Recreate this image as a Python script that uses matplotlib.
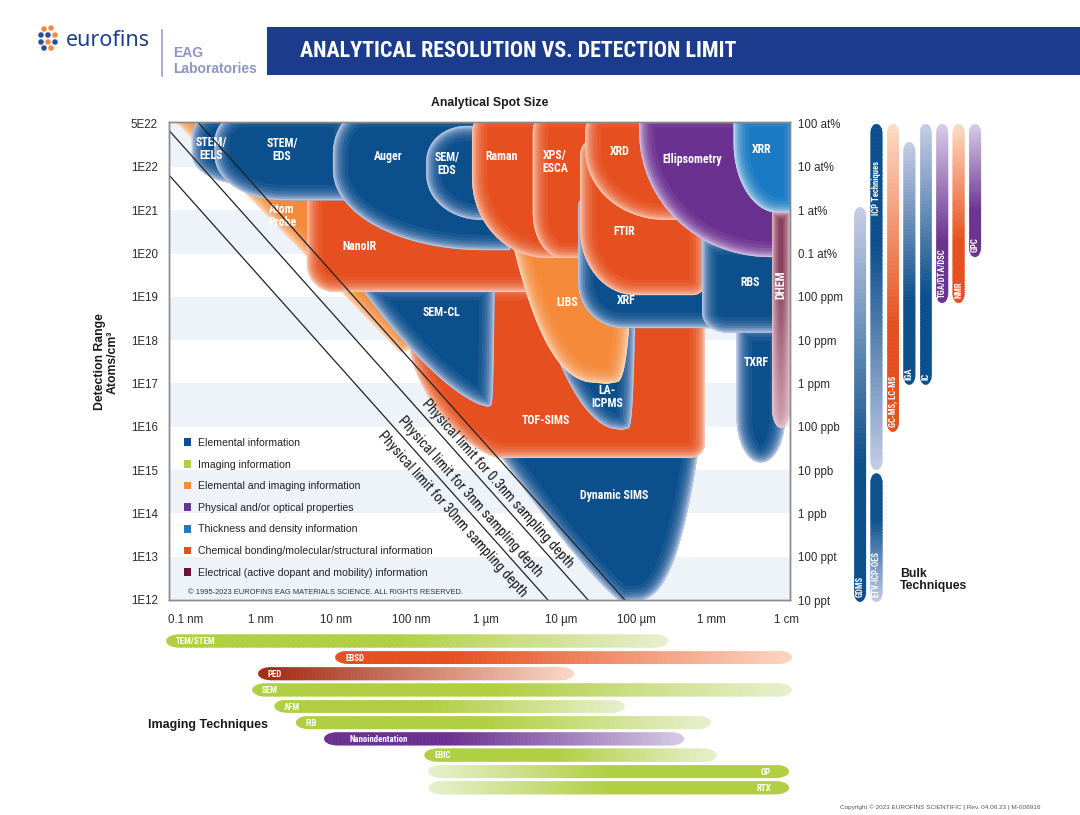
import numpy as np
import matplotlib
matplotlib.use("Agg")
import matplotlib.pyplot as plt
from matplotlib.patches import Polygon, Rectangle, Patch
from matplotlib.collections import PolyCollection
from matplotlib.colors import to_rgb
from matplotlib import font_manager as fm

# ---------------------------------------------------------------- fonts
_avail = {f.name for f in fm.fontManager.ttflist}
NARROW = next((f for f in ["Liberation Sans Narrow", "Roboto Condensed"] if f in _avail), None)
BASE = "Liberation Sans" if "Liberation Sans" in _avail else "DejaVu Sans"
NSCALE = 1.0
if NARROW is None:
    NARROW = BASE
    NSCALE = 0.86
plt.rcParams["font.family"] = [BASE, "DejaVu Sans"]

# ---------------------------------------------------------------- data
# Techniques: analytical spot size (m) vs detection range (atoms/cm^3)
tech_names = ["Dynamic SIMS", "TOF-SIMS", "Atom Probe", "SEM-CL", "NanoIR", "LA-ICPMS", "LIBS",
              "STEM/EELS", "STEM/EDS", "Auger", "SEM/EDS", "Raman", "XPS/ESCA", "XRF", "FTIR",
              "XRD", "TXRF", "RBS", "Ellipsometry", "XRR", "DHEM"]
tech_cats = ["elemental", "chemical", "elem_img", "elemental", "chemical", "elemental", "elem_img",
             "elemental", "elemental", "elemental", "elemental", "chemical", "chemical", "elemental",
             "chemical", "chemical", "elemental", "elemental", "physical", "thickness", "electrical"]
spot_min = [1.1e-6, 9.7e-8, 7.4e-11, 2.4e-8, 4.1e-9, 3.3e-6, 1.8e-6, 1.2e-10, 2.4e-10, 9.1e-9,
            1.6e-7, 6.5e-7, 4.2e-6, 1.7e-5, 1.8e-5, 2.1e-5, 2.2e-3, 7.6e-4, 1.1e-4, 2.0e-3, 6.5e-3]
spot_max = [7.1e-4, 8.3e-4, 1.3e-7, 1.3e-6, 9.7e-6, 1.0e-4, 9.7e-5, 3.3e-9, 1.5e-8, 2.1e-6,
            1.3e-6, 3.3e-5, 4.5e-5, 1.3e-3, 8.3e-4, 7.1e-4, 9.7e-3, 1.5e-2, 1.5e-2, 1.5e-2, 1.13e-2]
det_min = [9e11, 1.9e15, 5.4e17, 2.9e16, 1.3e19, 8.4e15, 9.8e16, 4.1e21, 1.7e21, 1.2e20,
           6.0e20, 7.9e19, 7.9e19, 1.9e18, 1.1e19, 6.0e20, 1.5e15, 1.5e18, 8.3e19, 8.7e20, 9.4e15]
det_max = [5e15, 1.9e19, 1e23, 1.9e19, 1e23, 1.2e20, 1.7e21, 1e23, 1e23, 1e23,
           8.9e22, 1e23, 1e23, 2.2e21, 4.2e22, 1e23, 2.2e18, 2.1e20, 1e23, 1e23, 9.2e20]
# spot size reached at the best detection limit (tapered regions only)
best_spot = [6.5e-5, None, 7.1e-8, 1.06e-6, None, 6.5e-5, 4.1e-5, None, None, None,
             None, None, None, None, None, None, None, None, None, None, None]

# physical limit lines: (spot, conc) end points
limit_labels = ["Physical limit for 0.3nm sampling depth",
                "Physical limit for 3nm sampling depth",
                "Physical limit for 30nm sampling depth"]
limit_spot = [(1.4e-10, 7.1e-5), (5.9e-11, 2.3e-5), (5.9e-11, 6.7e-6)]
limit_conc = [(1.15e23, 1e12), (7.1e22, 1e12), (6.6e21, 1e12)]

# bulk techniques (detection range only)
bulk_names = ["GDMS", "ICP Techniques", "ETV-ICP-OES", "GC-MS, LC-MS", "IGA", "IC",
              "TGA/DTA/DSC", "NMR", "GPC"]
bulk_col = [0, 1, 1, 2, 3, 4, 5, 6, 7]
bulk_top = [1.2e21, 1e23, 8.5e14, 1e23, 3.8e22, 1e23, 1e23, 1e23, 1e23]
bulk_bot = [9e11, 1.0e15, 9e11, 7.6e15, 9.3e16, 9.3e16, 7.2e18, 7.2e18, 8.3e19]
bulk_cat = ["elemental", "elemental", "elemental", "chemical", "elemental", "elemental",
            "physical", "chemical", "physical"]
bulk_dark_end = ["bottom", "top", "top", "bottom", "bottom", "bottom", "bottom", "bottom", "bottom"]

# imaging techniques (spot size range)
img_names = ["TEM/STEM", "EBSD", "PED", "SEM", "AFM", "FIB", "Nanoindentation", "EBIC", "OP", "RTX"]
img_cat = ["imaging", "chemical", "ped", "imaging", "imaging", "imaging", "physical", "imaging",
           "imaging", "imaging"]
img_min = [5.4e-11, 9.7e-9, 9.1e-10, 7.6e-10, 1.5e-9, 2.9e-9, 6.9e-9, 1.5e-7, 1.7e-7, 1.7e-7]
img_max = [2.7e-4, 1.2e-2, 1.5e-5, 1.2e-2, 7.1e-5, 1.0e-3, 4.4e-4, 1.2e-3, 1.1e-2, 1.1e-2]
img_solid_end = ["left"] * 8 + ["right", "right"]

x_tick_vals = [1e-10, 1e-9, 1e-8, 1e-7, 1e-6, 1e-5, 1e-4, 1e-3, 1e-2]
x_tick_labels = ["0.1 nm", "1 nm", "10 nm", "100 nm", "1 \u00b5m", "10 \u00b5m", "100 \u00b5m", "1 mm", "1 cm"]
y_tick_vals = [1e12, 1e13, 1e14, 1e15, 1e16, 1e17, 1e18, 1e19, 1e20, 1e21, 1e22, 1e23]
y_tick_labels = ["1E12", "1E13", "1E14", "1E15", "1E16", "1E17", "1E18", "1E19", "1E20", "1E21", "1E22", "5E22"]
y_right_labels = ["10 ppt", "100 ppt", "1 ppb", "10 ppb", "100 ppb", "1 ppm", "10 ppm", "100 ppm",
                  "0.1 at%", "1 at%", "10 at%", "100 at%"]

cat_order = ["elemental", "imaging", "elem_img", "physical", "thickness", "chemical", "electrical"]
cat_labels = ["Elemental information", "Imaging information", "Elemental and imaging information",
              "Physical and/or optical properties", "Thickness and density information",
              "Chemical bonding/molecular/structural information",
              "Electrical (active dopant and mobility) information"]

# ---------------------------------------------------------------- styles
COL = {"elemental": "#0b4f8c", "imaging": "#b0cf42", "elem_img": "#f58a3b", "physical": "#6b3190",
       "thickness": "#1a7ac3", "chemical": "#e64f1f", "electrical": "#6b1236", "ped": "#a52d17"}
GLOW = {"elemental": "#d3daf0", "imaging": "#e9f1d0", "elem_img": "#fee4cc", "physical": "#e4d6ef",
        "thickness": "#d8eaf8", "chemical": "#fdd8c4", "electrical": "#ecd0da", "ped": "#fcd9c8"}
PALE = {"elemental": "#c6cde6", "imaging": "#e8f0cf", "chemical": "#fcd6c2", "physical": "#d7cbe6",
        "ped": "#fbd9c7"}

SHAPE = {
    "Dynamic SIMS": dict(kind="tip", pl=0.85, pr=0.3),
    "TOF-SIMS": dict(kind="rect", bl=(90, 110), br=(15, 15), n_bl=1.5),
    "Atom Probe": dict(kind="tip", pl=1.0, pr=0.1),
    "SEM-CL": dict(kind="tip", pl=0.69, pr=0.15, tl=(8, 8)),
    "NanoIR": dict(kind="rect", tl=(38, 66), bl=(28, 28), br=(20, 20)),
    "LA-ICPMS": dict(kind="tip", pl=0.475, pr=0.15, tl=(10, 10)),
    "LIBS": dict(kind="tip", pl=0.36, pr=0.2, tl=(10, 10)),
    "STEM/EELS": dict(kind="rect", tl=(25, 25), bl=(50, 30), br=(40, 30)),
    "STEM/EDS": dict(kind="rect", tl=(30, 30), bl=(70, 45)),
    "Auger": dict(kind="rect", tl=(30, 42), bl=(150, 80)),
    "SEM/EDS": dict(kind="rect", tl=(40, 35), bl=(55, 45)),
    "Raman": dict(kind="rect", tl=(14, 22), bl=(75, 80)),
    "XPS/ESCA": dict(kind="rect", tl=(15, 20), bl=(30, 45)),
    "XRF": dict(kind="rect", tl=(10, 10), bl=(45, 45)),
    "FTIR": dict(kind="rect", tl=(12, 15), bl=(55, 65), br=(12, 12)),
    "XRD": dict(kind="rect", tl=(15, 20), bl=(80, 70)),
    "TXRF": dict(kind="rect", bl=(24, 45), br=(24, 45)),
    "RBS": dict(kind="rect", bl=(25, 20)),
    "Ellipsometry": dict(kind="rect", bl=(130, 125)),
    "XRR": dict(kind="rect", bl=(45, 70)),
    "DHEM": dict(kind="rect", bl=(9, 20), br=(9, 20), grad=("#6b1236", "#c795a5")),
}
# label anchor in figure pixels, text
LABEL = {
    "STEM/EELS": ((211, 149), "STEM/\nEELS"), "STEM/EDS": ((282, 150), "STEM/\nEDS"),
    "Auger": ((388, 157), "Auger"), "SEM/EDS": ((447, 164), "SEM/\nEDS"),
    "Raman": ((502, 156), "Raman"), "XPS/ESCA": ((555, 162), "XPS/\nESCA"),
    "XRD": ((620, 152), "XRD"), "Ellipsometry": ((692, 160), "Ellipsometry"),
    "XRR": ((762, 150), "XRR"), "Atom Probe": ((282, 216), "Atom\nProbe"),
    "NanoIR": ((359, 247), "NanoIR"), "FTIR": ((624, 232), "FTIR"),
    "LIBS": ((567, 303), "LIBS"), "XRF": ((626, 300), "XRF"), "RBS": ((750, 282), "RBS"),
    "SEM-CL": ((441, 312), "SEM-CL"), "TXRF": ((756, 363), "TXRF"),
    "LA-ICPMS": ((607, 397), "LA-\nICPMS"), "TOF-SIMS": ((546, 421), "TOF-SIMS"),
    "Dynamic SIMS": ((614, 495), "Dynamic SIMS"),
}

# ---------------------------------------------------------------- geometry helpers
W, H = 1080, 815
U_PX, V_PX = 75.0, 43.3          # pixels per decade


def px_u(px):
    return -10 + (px - 186) / U_PX


def py_v(py):
    return 22 - (py - 167) / V_PX


def frect(x0, x1, y0, y1):
    return [x0 / W, 1 - y1 / H, (x1 - x0) / W, (y1 - y0) / H]


def corner(cx, cy, rx, ry, a0, a1, n=2.0, k=18):
    th = np.radians(np.linspace(a0, a1, k))
    c, s = np.cos(th), np.sin(th)
    e = 2.0 / n
    return np.column_stack([cx + rx * np.sign(c) * np.abs(c) ** e,
                            cy + ry * np.sign(s) * np.abs(s) ** e])


def rrect_uv(u0, u1, v0, v1, tl=(0, 0), tr=(0, 0), br=(0, 0), bl=(0, 0), n_bl=2.0):
    r = lambda p: (p[0] / U_PX, p[1] / V_PX)
    parts = []
    rx, ry = r(tr); parts.append(corner(u1 - rx, v1 - ry, rx, ry, 0, 90))
    rx, ry = r(tl); parts.append(corner(u0 + rx, v1 - ry, rx, ry, 90, 180))
    rx, ry = r(bl); parts.append(corner(u0 + rx, v0 + ry, rx, ry, 180, 270, n_bl))
    rx, ry = r(br); parts.append(corner(u1 - rx, v0 + ry, rx, ry, 270, 360))
    return np.vstack(parts)


def tip_uv(u0, u1, v0, v1, ut, pl, pr, tl=(0, 0), cap=False):
    k = 90
    parts = []
    if cap:
        parts.append(np.array([[u0, v1 + 0.8], [u1, v1 + 0.8]]))
        vsl = vsr = v1
    else:
        rx, ry = tl[0] / U_PX, tl[1] / V_PX
        parts.append(corner(u0 + rx, v1 - ry, rx, ry, 180, 90))
        vsl, vsr = v1 - ry, v1
    t = np.linspace(1, 0, k)
    parts.append(np.column_stack([ut + (u1 - ut) * t ** pr, v0 + t * (vsr - v0)]))
    t = np.linspace(0, 1, k)
    parts.append(np.column_stack([ut - (ut - u0) * t ** pl, v0 + t * (vsl - v0)]))
    return np.vstack(parts)


def mix(c1, c2, t):
    a, b = np.array(to_rgb(c1)), np.array(to_rgb(c2))
    return tuple((1 - t) * a + t * b)


GLOW_LEVELS = [(22, 0.07), (17, 0.09), (13, 0.12), (9.5, 0.16), (6.5, 0.22), (4, 0.3), (2, 0.42), (0.8, 0.6)]

# ---------------------------------------------------------------- figure
fig = plt.figure(figsize=(W / 100, H / 100), dpi=100)
fig.patch.set_facecolor("white")

V_TOP = py_v(122)
ax = fig.add_axes(frect(169, 790, 122, 600))
ax.set_xscale("log"); ax.set_yscale("log")
ax.set_xlim(10 ** px_u(169), 10 ** px_u(790))
ax.set_ylim(1e12, 10 ** V_TOP)
ax.set_facecolor("white")

# alternating decade bands
for lo in [22, 20, 18, 16, 14, 12]:
    ax.axhspan(10 ** lo, 10 ** (lo + 1.2 if lo == 22 else lo + 1), color="#eef3f9", lw=0, zorder=0)

# technique regions
for i, name in enumerate(tech_names):
    st = SHAPE[name]
    u0, u1 = np.log10(spot_min[i]), np.log10(spot_max[i])
    v0, v1 = np.log10(det_min[i]), np.log10(det_max[i])
    touches_top = det_max[i] >= 1e23
    if st["kind"] == "tip":
        uv = tip_uv(u0, u1, v0, v1 if not touches_top else V_TOP, np.log10(best_spot[i]),
                    st["pl"], st["pr"], st.get("tl", (0, 0)), cap=touches_top)
    else:
        if touches_top:
            v1 = V_TOP + 10 / V_PX
        uv = rrect_uv(u0, u1, v0, v1, st.get("tl", (0, 0)), st.get("tr", (0, 0)),
                      st.get("br", (0, 0)), st.get("bl", (0, 0)), st.get("n_bl", 2.0))
    pts = 10 ** uv
    z = 2 + i * 0.05
    cat = tech_cats[i]
    patch = Polygon(pts, closed=True, facecolor=COL[cat] if "grad" not in st else "none",
                    edgecolor="none", zorder=z)
    ax.add_patch(patch)
    if "grad" in st:
        c_top, c_bot = st["grad"]
        vs = np.linspace(v0, v1, 60)
        segs, cols = [], []
        for a, b in zip(vs[:-1], vs[1:]):
            segs.append([(10 ** u0, 10 ** a), (10 ** u1, 10 ** a), (10 ** u1, 10 ** b), (10 ** u0, 10 ** b)])
            f = (a - v0) / (v1 - v0)
            cols.append(mix(c_bot, c_top, min(1, f * 1.4)))
        pc = PolyCollection(segs, facecolors=cols, edgecolors=cols, linewidths=0.5, zorder=z + 0.01)
        ax.add_collection(pc)
        pc.set_clip_path(patch)
    closed = np.vstack([pts, pts[:1]])
    for lw, a in GLOW_LEVELS:
        ln, = ax.plot(closed[:, 0], closed[:, 1], color=GLOW[cat], lw=lw, alpha=a,
                      solid_joinstyle="round", zorder=z + 0.02)
        ln.set_clip_path(patch)

# labels of regions
for name, ((lx, ly), txt) in LABEL.items():
    ax.text(10 ** px_u(lx), 10 ** py_v(ly), txt, color="white", fontweight="bold",
            fontsize=8.6 * NSCALE, family=[NARROW, "DejaVu Sans"], ha="center", va="center",
            linespacing=1.05, zorder=40)
ax.text(10 ** px_u(781), 10 ** py_v(285), "DHEM", color="white", fontweight="bold",
        fontsize=8.6 * NSCALE, family=[NARROW, "DejaVu Sans"], ha="center", va="center",
        rotation=90, zorder=41)

# physical limit lines
label_px = [(498, 484), (470, 497), (452, 514)]
for (xs, ys, lab, (lx, ly)) in zip(limit_spot, limit_conc, limit_labels, label_px):
    ax.plot(xs, ys, color="#222222", lw=0.9, zorder=50)
    ax.text(10 ** px_u(lx), 10 ** py_v(ly), lab, rotation=-48.3, rotation_mode="anchor",
            ha="center", va="center", fontsize=10.2 * NSCALE, family=[NARROW, "DejaVu Sans"],
            color="#1a1a1a", zorder=51)

# ticks
ax.set_xticks(x_tick_vals); ax.set_xticklabels(x_tick_labels)
ax.set_yticks(y_tick_vals); ax.set_yticklabels(y_tick_labels)
ax.xaxis.set_minor_locator(matplotlib.ticker.NullLocator())
ax.yaxis.set_minor_locator(matplotlib.ticker.NullLocator())
ax.tick_params(axis="both", length=0, labelsize=8.3, colors="#2a2a2a")
ax.tick_params(axis="x", pad=10)
ax.tick_params(axis="y", pad=8)
ax2 = ax.twinx()
ax2.set_yscale("log"); ax2.set_ylim(ax.get_ylim())
ax2.set_yticks(y_tick_vals); ax2.set_yticklabels(y_right_labels)
ax2.yaxis.set_minor_locator(matplotlib.ticker.NullLocator())
ax2.tick_params(axis="y", length=0, labelsize=8.3, colors="#2a2a2a", pad=6)
for a_ in (ax, ax2):
    for sp in a_.spines.values():
        sp.set_color("#8a8a8a"); sp.set_linewidth(1.0)
        sp.set_zorder(60)

# legend
handles = [Patch(facecolor=COL[c], edgecolor="none") for c in cat_order]
leg = ax.legend(handles, cat_labels, loc="upper left", bbox_to_anchor=(184 / W, 1 - 438 / H),
                bbox_transform=fig.transFigure, frameon=False, fontsize=7.3 * NSCALE if NSCALE < 1 else 7.6,
                handlelength=0.65, handleheight=0.75, handletextpad=0.7, labelspacing=1.1,
                borderpad=0, borderaxespad=0)
for t in leg.get_texts():
    t.set_color("#222222")
leg.set_zorder(70)
fig.text(188 / W, 1 - 592 / H, "\u00a9 1995-2023 EUROFINS EAG MATERIALS SCIENCE. ALL RIGHTS RESERVED.",
         fontsize=5.4, color="#333333", va="center", ha="left", zorder=80)

# axis titles
fig.text(490 / W, 1 - 103 / H, "Analytical Spot Size", fontsize=8.8, fontweight="bold",
         ha="center", va="center", color="#1a1a1a")
fig.text(106 / W, 1 - 362 / H, "Detection Range\nAtoms/cm\u00b3", fontsize=8.8, fontweight="bold",
         ha="center", va="center", rotation=90, color="#1a1a1a", linespacing=1.05)

# ---------------------------------------------------------------- bulk techniques
V_BOT_B = 11.9
axb = fig.add_axes(frect(851.8, 983.2, 122, 167 + (22 - V_BOT_B) * V_PX))
axb.set_yscale("log"); axb.set_ylim(10 ** V_BOT_B, 10 ** V_TOP); axb.set_xlim(-0.5, 7.5)
axb.axis("off")
for name, col, top, bot, cat, dark in zip(bulk_names, bulk_col, bulk_top, bulk_bot, bulk_cat, bulk_dark_end):
    vt, vb = np.log10(top), np.log10(bot)
    w, ry = 0.37, 10 / V_PX
    uv = np.vstack([corner(col, vt - ry, w, ry, 0, 180, k=24), corner(col, vb + ry, w, ry, 180, 360, k=24)])
    patch = Polygon(np.column_stack([uv[:, 0], 10 ** uv[:, 1]]), closed=True, facecolor="none",
                    edgecolor="none")
    axb.add_patch(patch)
    vs = np.linspace(vb, vt, 80)
    segs, cols = [], []
    pale = PALE.get(cat, "#eeeeee") if cat != "chemical" else "#fddcc4"
    for a, b in zip(vs[:-1], vs[1:]):
        segs.append([(col - w, 10 ** a), (col + w, 10 ** a), (col + w, 10 ** b), (col - w, 10 ** b)])
        f = ((a + b) / 2 - vb) / (vt - vb)
        f = f if dark == "bottom" else 1 - f
        cols.append(mix(COL[cat], pale, np.clip((f - 0.35) / 0.65, 0, 1)))
    pc = PolyCollection(segs, facecolors=cols, edgecolors=cols, linewidths=0.5)
    axb.add_collection(pc); pc.set_clip_path(patch)
    if name == "ICP Techniques":
        ly, va = 10 ** py_v(215), "bottom"
    else:
        ly, va = 10 ** (vb + 5 / V_PX), "bottom"
    axb.text(col, ly, name, rotation=90, ha="center", va=va, color="white", fontweight="bold",
             fontsize=6.2 * NSCALE, family=[NARROW, "DejaVu Sans"])
fig.text(900 / W, 1 - 580 / H, "Bulk\nTechniques", fontsize=8.8, fontweight="bold", ha="left",
         va="center", color="#1a1a1a", linespacing=1.1)

# ---------------------------------------------------------------- imaging techniques
axi = fig.add_axes(frect(150, 800, 632.85, 795.85))
axi.set_xscale("log"); axi.set_xlim(10 ** px_u(150), 10 ** px_u(800)); axi.set_ylim(9.5, -0.5)
axi.axis("off")
hold = {"imaging": 0.45, "chemical": 0.25, "ped": 0.05, "physical": 0.35}
for row, (name, cat, lo, hi, solid) in enumerate(zip(img_names, img_cat, img_min, img_max, img_solid_end)):
    u0, u1 = np.log10(lo), np.log10(hi)
    h, rx = 0.41, 14 / U_PX
    uv = np.vstack([corner(u1 - rx, row, rx, h, -90, 90, k=24), corner(u0 + rx, row, rx, h, 90, 270, k=24)])
    patch = Polygon(np.column_stack([10 ** uv[:, 0], uv[:, 1]]), closed=True, facecolor="none",
                    edgecolor="none")
    axi.add_patch(patch)
    us = np.linspace(u0, u1, 100)
    segs, cols = [], []
    for a, b in zip(us[:-1], us[1:]):
        segs.append([(10 ** a, row - h), (10 ** b, row - h), (10 ** b, row + h), (10 ** a, row + h)])
        f = ((a + b) / 2 - u0) / (u1 - u0)
        f = f if solid == "left" else 1 - f
        hd = hold[cat] if solid == "left" else 0.5
        cols.append(mix(COL[cat], PALE[cat], np.clip((f - hd) / (1 - hd), 0, 1)))
    pc = PolyCollection(segs, facecolors=cols, edgecolors=cols, linewidths=0.5)
    axi.add_collection(pc); pc.set_clip_path(patch)
    if solid == "left":
        off = 26 if name == "Nanoindentation" else 10
        axi.text(10 ** (u0 + off / U_PX), row + 0.05, name, ha="left", va="center", color="white",
                 fontweight="bold", fontsize=6.4 * NSCALE, family=[NARROW, "DejaVu Sans"])
    else:
        axi.text(10 ** (u1 - 18 / U_PX), row + 0.05, name, ha="right", va="center", color="white",
                 fontweight="bold", fontsize=6.4 * NSCALE, family=[NARROW, "DejaVu Sans"])
fig.text(148 / W, 1 - 725 / H, "Imaging Techniques", fontsize=9, fontweight="bold", ha="left",
         va="center", color="#1a1a1a")

# ---------------------------------------------------------------- header
fig.add_artist(Rectangle((267 / W, 1 - 75 / H), (W - 267) / W, 48 / H, transform=fig.transFigure,
                         facecolor="#1b3c8c", edgecolor="none"))
fig.text(300 / W, 1 - 51 / H, "ANALYTICAL RESOLUTION VS. DETECTION LIMIT", color="white",
         fontsize=15.8 * (NSCALE if NSCALE < 1 else 1), fontweight="bold", family=[NARROW, "DejaVu Sans"],
         ha="left", va="center")
axl = fig.add_axes(frect(36, 64, 24, 52))
axl.set_xlim(0, 28); axl.set_ylim(28, 0); axl.axis("off")
dots_x = [8, 15, 5, 12, 19, 5, 12, 19, 8, 15]
dots_y = [5, 4, 11, 11, 11, 18, 18, 18, 24, 24]
dots_c = ["#f58a3b", "#f58a3b", "#2a4f9a", "#2a4f9a", "#f58a3b", "#2a4f9a", "#f58a3b", "#2a4f9a",
          "#2a4f9a", "#f58a3b"]
axl.scatter(dots_x, dots_y, s=16, c=dots_c, edgecolors="none")
fig.text(66 / W, 1 - 41 / H, "eurofins", fontsize=15.5, color="#1f3f8c", ha="left", va="center",
         family=["Noto Sans", "DejaVu Sans"])
fig.add_artist(plt.Line2D([162 / W, 162 / W], [1 - 30 / H, 1 - 76 / H], transform=fig.transFigure,
                          color="#9aa0c8", lw=1.2))
fig.text(173 / W, 1 - 53 / H, "EAG", fontsize=10, fontweight="bold", color="#8f94c2", ha="left", va="center")
fig.text(173 / W, 1 - 69 / H, "Laboratories", fontsize=10, fontweight="bold", color="#8f94c2",
         ha="left", va="center")
fig.text(1040 / W, 1 - 807 / H, "Copyright \u00a9 2023 EUROFINS SCIENTIFIC | Rev. 04.06.23 | M-006916",
         fontsize=4.6, color="#555555", ha="right", va="center")

fig.savefig("out.png", dpi=100, facecolor="white")
